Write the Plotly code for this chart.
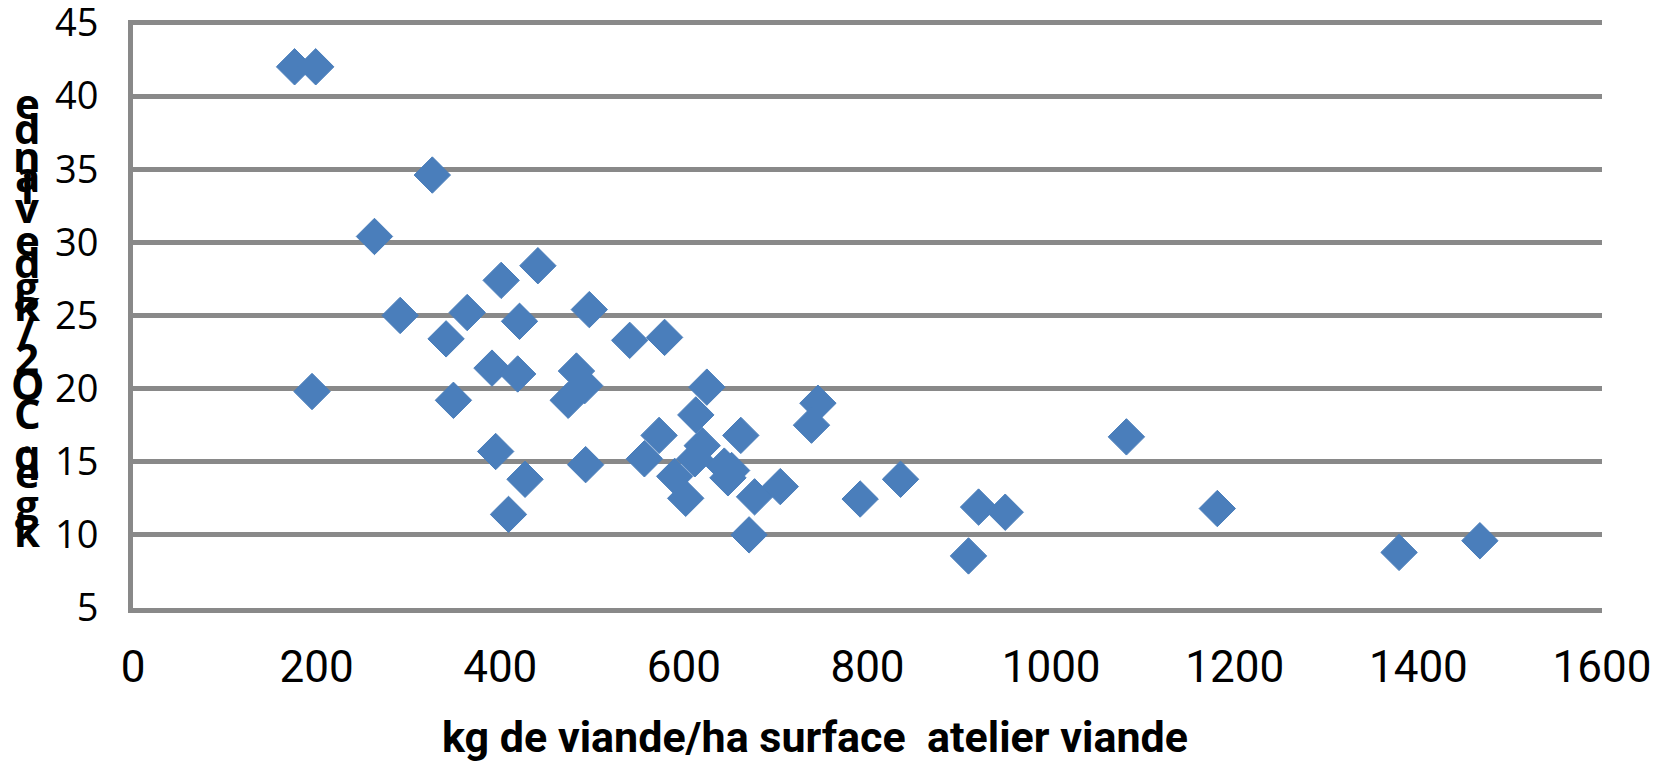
import plotly.graph_objects as go

# kg de viande / ha surface atelier viande
x_vals = [176, 199, 326, 263, 401, 441, 291, 364, 421, 497,
          341, 541, 579, 391, 419, 483, 492, 474, 195, 349,
          625, 613, 573, 662, 557, 620, 612, 644, 648, 652,
          590, 602, 677, 705, 395, 493, 427, 409, 671, 746,
          739, 792, 836, 921, 950, 910, 1082, 1181, 1379, 1467]
# kg eq.CO2 / kg de viande
y_vals = [42.0, 42.0, 34.6, 30.4, 27.4, 28.4, 25.0, 25.2, 24.6, 25.4,
          23.4, 23.3, 23.5, 21.4, 21.0, 21.2, 20.2, 19.2, 19.8, 19.2,
          20.1, 18.2, 16.8, 16.8, 15.2, 16.1, 15.2, 14.7, 13.9, 14.4,
          14.0, 12.5, 12.6, 13.3, 15.7, 14.8, 13.8, 11.4, 10.0, 19.0,
          17.5, 12.45, 13.8, 11.9, 11.55, 8.56, 16.7, 11.8, 8.8, 9.6]

x_ticks = [0, 200, 400, 600, 800, 1000, 1200, 1400, 1600]
y_ticks = [5, 10, 15, 20, 25, 30, 35, 40, 45]
x_title = "kg de viande/ha surface  atelier viande"
y_title = "kg eq.CO2/kg de viande"

GRID = "#898989"
BLUE = "#4A7EBB"

fig = go.Figure()
fig.add_trace(go.Scatter(
    x=x_vals, y=y_vals, mode="markers", cliponaxis=False,
    marker=dict(symbol="diamond", size=28, color=BLUE,
                line=dict(color=BLUE, width=1)),
    showlegend=False,
))

fig.update_layout(
    width=1668, height=761,
    margin=dict(l=133, r=66, t=20, b=153, autoexpand=False),
    paper_bgcolor="white", plot_bgcolor="white",
    xaxis=dict(range=[0, 1600], tickvals=x_ticks, ticktext=[str(v) for v in x_ticks],
               showgrid=False, automargin=False,
               showline=True, linecolor=GRID, linewidth=5, zeroline=False,
               ticks="", ticklabelstandoff=16, ticklabeloverflow="allow",
               tickfont=dict(family="Roboto, sans-serif", size=44, color="black")),
    yaxis=dict(range=[5, 45.2], tickvals=y_ticks, ticktext=[str(v) for v in y_ticks],
               showgrid=True, gridcolor=GRID, gridwidth=5, automargin=False,
               showline=True, linecolor=GRID, linewidth=5, zeroline=False,
               ticks="", ticklabelstandoff=22, ticklabeloverflow="allow",
               tickfont=dict(family="Open Sans, sans-serif", size=38, color="black")),
)

fig.add_annotation(
    text="<b>" + x_title + "</b>", xref="paper", yref="paper",
    x=0.464, y=-0.219, xanchor="center", yanchor="middle", showarrow=False,
    font=dict(family="Roboto, sans-serif", size=43, color="black"),
)

# stacked vertical letters for the y-axis title (reversed, as in the reference)
chars = [c for c in y_title if c != " "][::-1]
letter_px = [102, 128, 155, 175, 187, 207, 240, 261, 286, 304,
             330, 357, 383, 412, 436, 453, 471, 503, 530]
plot_top, plot_h = 20, 588
for c, ypx in zip(chars, letter_px):
    fig.add_annotation(
        text="<b>" + c + "</b>", xref="paper", yref="paper",
        x=(27 - 133) / 1469, y=(plot_top + plot_h - ypx) / plot_h,
        xanchor="center", yanchor="middle", showarrow=False,
        font=dict(family="Open Sans, sans-serif", size=42, color="black"),
    )

fig.write_html("out.html")
